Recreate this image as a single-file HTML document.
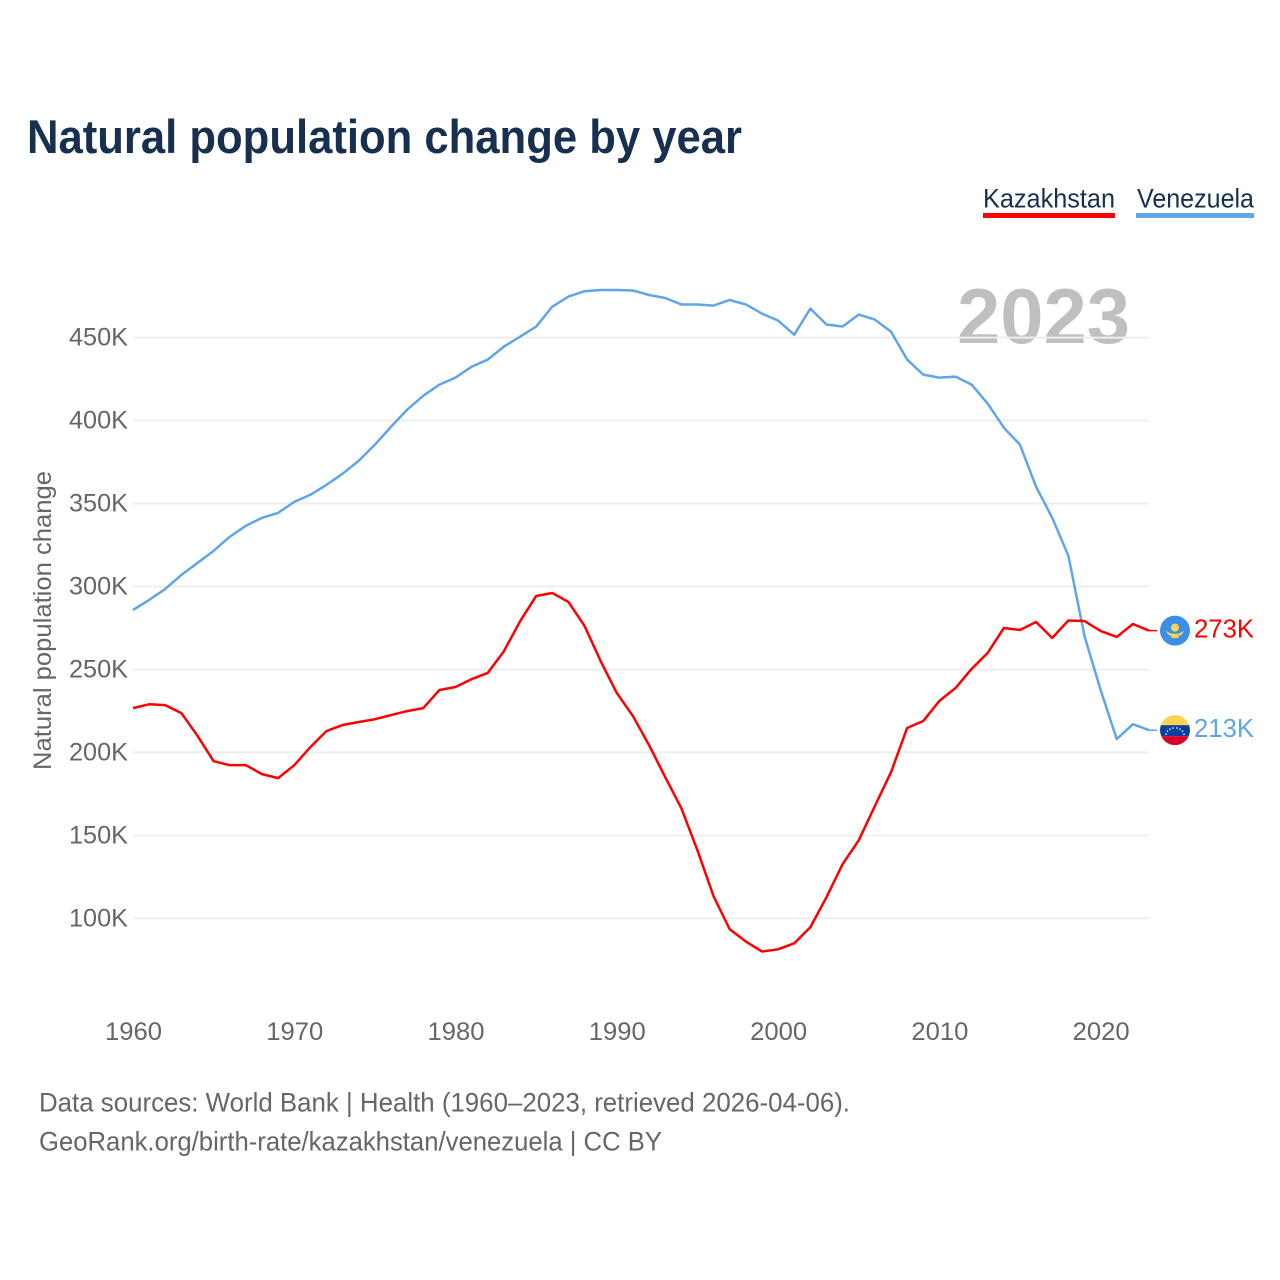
<!DOCTYPE html>
<html lang="en">
<head>
<meta charset="utf-8">
<title>Natural population change by year</title>
<style>
html,body{margin:0;padding:0;background:#fff;}
svg{display:block;font-family:"Liberation Sans",Arial,sans-serif;}
</style>
</head>
<body>
<svg id="chart" xmlns="http://www.w3.org/2000/svg" width="1280" height="1280" viewBox="0 0 1280 1280">
  <defs>
    <clipPath id="flag-clip"><circle cx="0" cy="0" r="15"></circle></clipPath>
  </defs>
  <rect x="0" y="0" width="1280" height="1280" fill="#ffffff"></rect>
  <text x="27" y="153" font-size="47" font-weight="700" fill="#18304f" textLength="715" lengthAdjust="spacingAndGlyphs">Natural population change by year</text>

  <g>
    <g>
      <text x="983" y="207.5" font-size="27" fill="#18304f" textLength="132" lengthAdjust="spacingAndGlyphs">Kazakhstan</text>
      <rect x="983" y="213" width="132" height="5" fill="#ff0000"></rect>
    </g>
    <g>
      <text x="1137" y="207.5" font-size="27" fill="#18304f" textLength="117" lengthAdjust="spacingAndGlyphs">Venezuela</text>
      <rect x="1136" y="213" width="118" height="5" fill="#60a5ea"></rect>
    </g>
  </g>

  <text x="957" y="343" font-size="78" font-weight="700" fill="#000000" fill-opacity="0.25" textLength="173" lengthAdjust="spacingAndGlyphs">2023</text>

  <g id="grid"></g>
  <g id="y-ticks"></g>
  <g id="x-ticks"></g>

  <text transform="translate(51,770) rotate(-90)" x="0" y="0" font-size="25" fill="#666666" textLength="299" lengthAdjust="spacingAndGlyphs">Natural population change</text>

  <g id="series"></g>

  <g id="flag-kazakhstan">
    <g clip-path="url(#flag-clip)">
      <rect x="-15" y="-15" width="30" height="30" fill="#3a8fe6"></rect>
      <circle cx="0" cy="-3" r="4" fill="#ffd24f"></circle>
      <path d="M-9 0 C-7 5.5 -3 6 0 6 C3 6 7 5.5 9 0 C6 2.5 3 3.2 0 3.2 C-3 3.2 -6 2.5 -9 0 Z" fill="#ffd24f"></path>
      <rect x="-3.5" y="5.5" width="7" height="2" fill="#ffd24f"></rect>
    </g>
  </g>
  <g id="flag-venezuela">
    <g clip-path="url(#flag-clip)">
      <rect x="-15" y="-15" width="30" height="10" fill="#ffd24f"></rect>
      <rect x="-15" y="-5" width="30" height="11" fill="#0a3f9e"></rect>
      <rect x="-15" y="6" width="30" height="9" fill="#d80027"></rect>
      <g fill="#ffffff">
        <circle cx="-9" cy="4" r="0.8"></circle>
        <circle cx="-7.5" cy="1" r="0.8"></circle>
        <circle cx="-5" cy="-1" r="0.8"></circle>
        <circle cx="-2" cy="-2.2" r="0.8"></circle>
        <circle cx="2" cy="-2.2" r="0.8"></circle>
        <circle cx="5" cy="-1" r="0.8"></circle>
        <circle cx="7.5" cy="1" r="0.8"></circle>
        <circle cx="9" cy="4" r="0.8"></circle>
      </g>
    </g>
  </g>

  <text x="39" y="1111.5" font-size="27" fill="#666666" textLength="811" lengthAdjust="spacingAndGlyphs">Data sources: World Bank | Health (1960–2023, retrieved 2026-04-06).</text>
  <text x="39" y="1150.5" font-size="27" fill="#666666" textLength="623" lengthAdjust="spacingAndGlyphs">GeoRank.org/birth-rate/kazakhstan/venezuela | CC BY</text>
</svg>

<script>
const years = [1960,1961,1962,1963,1964,1965,1966,1967,1968,1969,1970,1971,1972,1973,1974,1975,1976,1977,1978,1979,1980,1981,1982,1983,1984,1985,1986,1987,1988,1989,1990,1991,1992,1993,1994,1995,1996,1997,1998,1999,2000,2001,2002,2003,2004,2005,2006,2007,2008,2009,2010,2011,2012,2013,2014,2015,2016,2017,2018,2019,2020,2021,2022,2023];
const kazakhstan = [226.7,229,228.5,223.7,210,194.7,192.3,192.3,186.9,184.5,192.3,203.2,212.9,216.5,218.3,220,222.5,224.9,226.7,237.6,239.4,244.2,247.9,261,279,294.3,296.1,290.7,276.2,255,235.8,221.9,204.4,185.1,166.4,141,113.3,93.4,86,80,81.3,84.9,94.6,112.7,132.6,147,167.6,188,214.7,218.9,231,238.8,250.3,260,275,273.8,278.6,269,279.5,279.2,273.2,269.6,277.4,273.4];
const venezuela = [285.9,291.9,298.5,307,314.2,321.5,330,336.6,341.4,344.4,351,355.3,361.3,368,375.8,385.5,396.3,406.6,415,421.7,425.9,432.5,436.8,444.6,450.6,456.7,468.7,474.8,478,478.7,478.7,478.4,475.7,473.9,470,470,469.3,472.7,470,464.5,460.3,451.8,467.5,457.9,456.7,463.9,460.9,453.6,436.8,427.7,425.9,426.5,421.7,410.2,395.7,385.5,360.1,341.4,318.5,270.2,237.6,208,217,213.4];
const yTickValues = [100,150,200,250,300,350,400,450];
const xTickValues = [1960,1970,1980,1990,2000,2010,2020];

const NS = 'http://www.w3.org/2000/svg';
function xScale(year) { return 133 + (year - 1960) * (1149 - 133) / 63; }
function yScale(value) { return 918.3 - (value - 100) * 1.659; }
function make(tag, attrs, parent, text) {
  const el = document.createElementNS(NS, tag);
  for (const k in attrs) el.setAttribute(k, attrs[k]);
  if (text !== undefined) el.textContent = text;
  parent.appendChild(el);
  return el;
}

const gridGroup = document.getElementById('grid');
const yGroup = document.getElementById('y-ticks');
yTickValues.forEach(function (v) {
  const line = make('line', {x1: 133, x2: 1149, y1: yScale(v), y2: yScale(v), stroke: '#eeeeee', 'stroke-width': 2}, gridGroup);
  
  
  const t = make('text', {x: 128, y: yScale(v) + 8, 'text-anchor': 'end', 'font-size': 25, fill: '#666666', textLength: 59, lengthAdjust: 'spacingAndGlyphs'}, yGroup, v + 'K');
  
  
});

const xGroup = document.getElementById('x-ticks');
xTickValues.forEach(function (year) {
  const t = make('text', {x: xScale(year) + 0.5, y: 1040, 'text-anchor': 'middle', 'font-size': 25, fill: '#666666', textLength: 57, lengthAdjust: 'spacingAndGlyphs'}, xGroup, String(year));
  
  
});

function drawSeries(values, color, name, flagId) {
  const group = document.getElementById('series');
  const pts = values.map(function (v, i) { return xScale(years[i]).toFixed(2) + ',' + yScale(v).toFixed(2); }).join(' ');
  const line = make('polyline', {points: pts, fill: 'none', stroke: color, 'stroke-width': 2.5, 'stroke-linejoin': 'round'}, group);
  
  
  const last = values[values.length - 1];
  const endX = xScale(years[years.length - 1]);
  const endY = yScale(last);
  const connector = make('line', {x1: endX, x2: endX + 8, y1: endY, y2: endY, stroke: color, 'stroke-width': 1.5}, group);
  
  
  document.getElementById(flagId).setAttribute('transform', 'translate(' + (endX + 26) + ',' + endY + ')');
  const endLabel = make('text', {x: 1194, y: endY + 7, 'font-size': 26, fill: color, textLength: 60, lengthAdjust: 'spacingAndGlyphs'}, group, Math.round(last) + 'K');
  
  
}
drawSeries(venezuela, '#5fa5ec', 'venezuela', 'flag-venezuela');
drawSeries(kazakhstan, '#ff0000', 'kazakhstan', 'flag-kazakhstan');
</script>
</body>
</html>
